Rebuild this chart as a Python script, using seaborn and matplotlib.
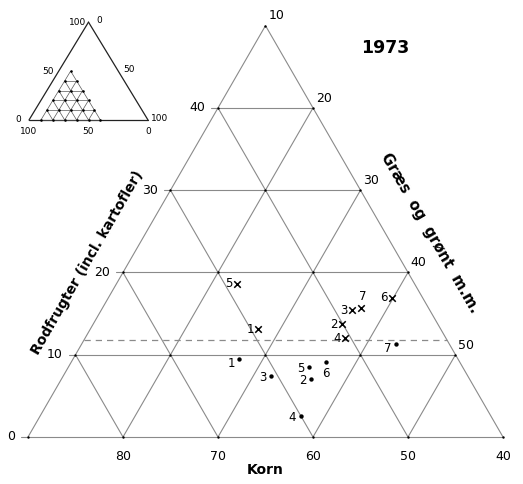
#!/usr/bin/env python3
"""
Ternary diagram of crop shares (Korn / Rodfrugter / Græs og grønt), 1973
"""

import numpy as np
import pandas as pd
import matplotlib
matplotlib.use("Agg")
import matplotlib.pyplot as plt
import seaborn as sns

sns.set_style("white")
plt.rcParams['font.family'] = ['DejaVu Sans']
plt.rcParams['text.color'] = 'black'

# --- data (percent) ---------------------------------------------------------
point_labels = ['1', '2', '3', '4', '5', '6', '7']

# "x" series
cross_korn = [59.2, 50.1, 48.2, 50.6, 58.7, 43.2, 47.1]
cross_rod = [13.1, 13.7, 15.4, 12.0, 18.6, 16.9, 15.7]

# "•" series
dot_korn = [63.0, 56.7, 60.7, 60.0, 56.2, 54.1, 45.6]
dot_rod = [9.5, 7.05, 7.4, 2.55, 8.5, 9.1, 11.3]

dashed_rod = 11.8

korn_ticks = [80, 70, 60, 50, 40]
rod_ticks = [0, 10, 20, 30, 40]
graes_ticks = [10, 20, 30, 40, 50]

inset_ticks = [0, 50, 100]

GRID = '#8a8a8a'


def tern_xy(korn, rod, korn_max=90):
    """Korn/Rodfrugter percent -> cartesian position"""
    korn = np.asarray(korn, dtype=float)
    rod = np.asarray(rod, dtype=float)
    return korn_max - korn - rod / 2, rod * np.sqrt(3) / 2


def seg(ax, p, q, korn_max=90, **kw):
    x0, y0 = tern_xy(*p, korn_max=korn_max)
    x1, y1 = tern_xy(*q, korn_max=korn_max)
    ax.plot([x0, x1], [y0, y1], **kw)


def draw_grid(ax, korn_max=90, lw=0.8, color=GRID, dot_size=3):
    """Zoomed region: Korn 40-90, Rodfrugter 0-50, Græs 10-60"""
    style = dict(color=color, lw=lw, solid_capstyle='butt')
    # outline
    seg(ax, (90, 0), (40, 0), korn_max, **style)
    seg(ax, (90, 0), (40, 50), korn_max, **style)
    seg(ax, (40, 50), (40, 0), korn_max, **style)
    for r in [10, 20, 30, 40]:
        seg(ax, (90 - r, r), (40, r), korn_max, **style)
    for k in [80, 70, 60, 50]:
        seg(ax, (k, 0), (k, 90 - k), korn_max, **style)
    for g in [20, 30, 40, 50]:
        seg(ax, (100 - g, 0), (40, 60 - g), korn_max, **style)
    # nodes
    nk, nr = [], []
    for k in range(40, 91, 10):
        for r in range(0, 51, 10):
            if 100 - k - r >= 10:
                nk.append(k)
                nr.append(r)
    x, y = tern_xy(nk, nr, korn_max)
    ax.scatter(x, y, s=dot_size, color='black', zorder=3, linewidths=0)


fig = plt.figure(figsize=(5.23, 4.84), dpi=100)
ax = fig.add_axes([0, 0, 1, 1])
ax.set_xlim(-28 / 9.5, 495 / 9.5)
ax.set_ylim(-47 / 9.5, 437 / 9.5)
ax.axis('off')

draw_grid(ax)

# dashed reference line
seg(ax, (90 - dashed_rod, dashed_rod), (40, dashed_rod),
    color=GRID, lw=0.9, ls=(0, (5, 4)))

# tick labels
for k in korn_ticks:
    x, y = tern_xy(k, 0)
    ax.annotate(str(k), (x, y), xytext=(0, -14), textcoords='offset points',
                ha='center', va='center', fontsize=9)
for r in rod_ticks:
    x, y = tern_xy(90 - r, r)
    ax.plot([x - 0.7, x], [y, y], color=GRID, lw=0.8)
    ax.annotate(str(r), (x, y), xytext=(-9, 0), textcoords='offset points',
                ha='right', va='center', fontsize=9)
for g in graes_ticks:
    x, y = tern_xy(40, 60 - g)
    ax.annotate(str(g), (x, y), xytext=(2, 7), textcoords='offset points',
                ha='left', va='center', fontsize=9)

# points
df_cross = pd.DataFrame({'label': point_labels})
df_cross['x'], df_cross['y'] = tern_xy(cross_korn, cross_rod)
df_dot = pd.DataFrame({'label': point_labels})
df_dot['x'], df_dot['y'] = tern_xy(dot_korn, dot_rod)

sns.scatterplot(data=df_cross, x='x', y='y', marker='x', color='black',
                s=22, linewidth=1.1, ax=ax, zorder=4)
sns.scatterplot(data=df_dot, x='x', y='y', marker='o', color='black',
                s=10, linewidth=0, ax=ax, zorder=4)

cross_offsets = {'7': (1, 8)}
dot_offsets = {'6': (0, -8), '1': (-6, -3), '7': (-6, -3)}
for _, row in df_cross.iterrows():
    dx, dy = cross_offsets.get(row['label'], (-6, 0))
    ax.annotate(row['label'], (row['x'], row['y']), xytext=(dx, dy),
                textcoords='offset points', ha='center', va='center', fontsize=8.5)
for _, row in df_dot.iterrows():
    dx, dy = dot_offsets.get(row['label'], (-6, -1))
    ax.annotate(row['label'], (row['x'], row['y']), xytext=(dx, dy),
                textcoords='offset points', ha='center', va='center', fontsize=8.5)

# axis titles
ax.text(24.95, -3.5, 'Korn', ha='center', va='center', fontsize=10, fontweight='bold')
ax.text(6.2, 18.3, 'Rodfrugter (incl. kartofler)', rotation=60,
        ha='center', va='center', fontsize=10, fontweight='bold', rotation_mode='anchor')
ax.text(42.3, 21.5, 'Græs  og  grønt  m.m.', rotation=-60,
        ha='center', va='center', fontsize=10.5, fontweight='bold', rotation_mode='anchor')
ax.text(37.6, 40.9, '1973', ha='center', va='center', fontsize=12.5, fontweight='bold')

# --- inset: whole triangle --------------------------------------------------
ins = fig.add_axes([0, (484 - 140) / 484, 175 / 523, 140 / 484])
ins.set_xlim(-29 / 1.19, 146 / 1.19)
ins.set_ylim(-20 / 1.13, 120 / 1.13)
ins.axis('off')
ins.patch.set_alpha(0)

edge = dict(color='#222222', lw=0.9)
seg(ins, (100, 0), (0, 0), 100, **edge)
seg(ins, (100, 0), (0, 100), 100, **edge)
seg(ins, (0, 100), (0, 0), 100, **edge)
draw_grid(ins, korn_max=100, lw=0.5, color='#555555', dot_size=3.5)

small = dict(fontsize=6.5, ha='center', va='center')
for t in inset_ticks:
    # Korn along bottom
    x, y = tern_xy(t, 0, 100)
    ins.annotate(str(t), (x, y), xytext=(0, -8), textcoords='offset points', **small)
    # Rodfrugter along left edge
    x, y = tern_xy(100 - t, t, 100)
    ins.annotate(str(t), (x, y), xytext=(-8, 0), textcoords='offset points', **small)
    # Græs along right edge
    x, y = tern_xy(0, 100 - t, 100)
    ins.annotate(str(t), (x, y), xytext=(8, 1), textcoords='offset points', **small)

plt.savefig('out.png', dpi=100)
plt.close()
